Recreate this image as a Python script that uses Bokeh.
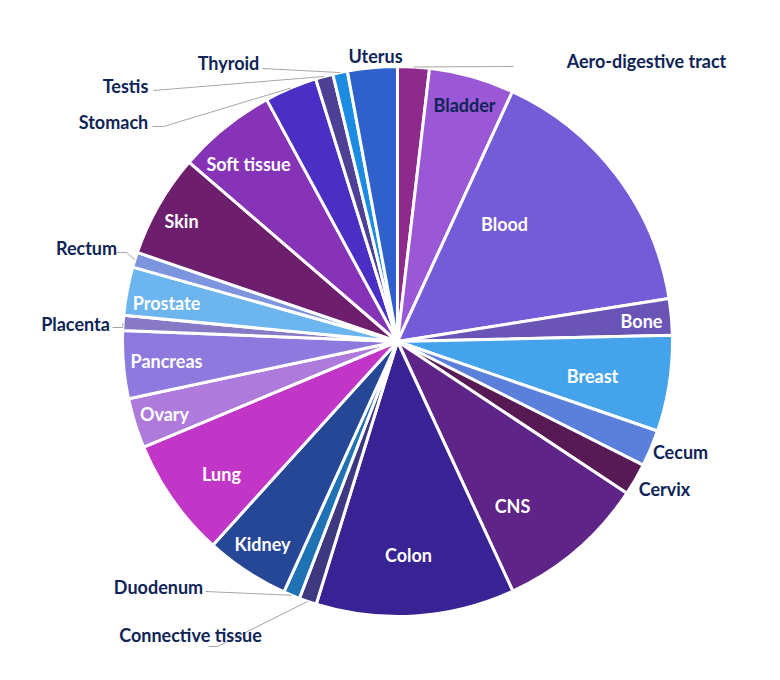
import numpy as np
from bokeh.plotting import figure
from bokeh.models import ColumnDataSource, Range1d
from bokeh.core.properties import value
from bokeh.embed import file_html
from bokeh.resources import INLINE

# ---- data (share of the pie, read in degrees, clockwise from 12 o'clock) ----
categories = ["Aero-digestive tract", "Bladder", "Blood", "Bone", "Breast", "Cecum",
              "Cervix", "CNS", "Colon", "Connective tissue", "Duodenum", "Kidney",
              "Lung", "Ovary", "Pancreas", "Placenta", "Prostate", "Rectum", "Skin",
              "Soft tissue", "Stomach", "Testis", "Thyroid", "Uterus"]
shares = [6.7, 18.0, 56.3, 7.7, 20.3, 7.7, 6.8, 31.7, 42.0, 3.7, 3.5, 17.8,
          25.2, 10.6, 14.3, 3.2, 10.2, 3.2, 21.8, 20.9, 11.1, 3.7, 3.1, 10.5]
colors = ["#8E2A8C", "#9A57D6", "#745BD8", "#6A55B6", "#45A3EB", "#5B80DB",
          "#581A55", "#5F2488", "#392293", "#3E3880", "#1F72B3", "#264796",
          "#C136C6", "#AE7BDC", "#8E79DE", "#8779C6", "#6DB5EF", "#7D95DF",
          "#6D1F6D", "#8733B7", "#4B2EC3", "#4E4095", "#1C8BE2", "#2F60CC"]

# ---- layout (pixel coordinates, y downward) ----
W, H = 780, 680
CX, CY, R = 397, 341, 275

label_px = {
    "Aero-digestive tract": (646, 60), "Bladder": (464, 104), "Blood": (504, 223),
    "Bone": (641, 320), "Breast": (592, 375), "Cecum": (680, 451),
    "Cervix": (664, 488), "CNS": (512, 505), "Colon": (408, 554),
    "Connective tissue": (190, 634), "Duodenum": (158, 586), "Kidney": (262, 543),
    "Lung": (221, 473), "Ovary": (164, 413), "Pancreas": (166, 360),
    "Placenta": (75, 323), "Prostate": (166, 302), "Rectum": (86, 247),
    "Skin": (181, 220), "Soft tissue": (248, 163), "Stomach": (113, 121),
    "Testis": (125, 85), "Thyroid": (228, 62), "Uterus": (375, 55),
}
outside = {"Aero-digestive tract", "Cecum", "Cervix", "Connective tissue", "Duodenum",
           "Placenta", "Rectum", "Stomach", "Testis", "Thyroid", "Uterus", "Bladder"}
leader_start = {
    "Aero-digestive tract": [(513, 66)],
    "Thyroid": [(262, 68)],
    "Testis": [(153, 90)],
    "Stomach": [(152, 126), (163, 126)],
    "Rectum": [(116, 252), (126, 252)],
    "Placenta": [(112, 327), (122, 327)],
    "Duodenum": [(205, 591)],
    "Connective tissue": [(208, 646), (217, 646)],
}

vals = np.array(shares, dtype=float)
theta = vals / vals.sum() * 2 * np.pi
ends = np.cumsum(theta)
starts = ends - theta
mids = (starts + ends) / 2

src = ColumnDataSource(dict(
    cat=categories, color=colors,
    start=np.pi / 2 - starts, end=np.pi / 2 - ends,
))

p = figure(width=W, height=H, output_backend="svg", toolbar_location=None,
           x_range=Range1d(0, W), y_range=Range1d(0, H),
           x_axis_location=None, y_axis_location=None, min_border=0)
p.outline_line_color = None
p.grid.visible = False
p.background_fill_color = "white"
p.border_fill_color = "white"

p.wedge(x=CX, y=H - CY, radius=R, start_angle="start", end_angle="end",
        direction="clock", fill_color="color", line_color="white", line_width=3,
        source=src)

# leader lines
for i, c in enumerate(categories):
    if c in leader_start:
        ex = CX + R * np.sin(mids[i])
        ey = CY - R * np.cos(mids[i])
        pts = leader_start[c] + [(ex, ey)]
        p.line([q[0] for q in pts], [H - q[1] for q in pts],
               line_color="#A6A6A6", line_width=1)

# labels
lx, ly, lt, lc = [], [], [], []
for c in categories:
    x, y = label_px[c]
    lx.append(x); ly.append(H - y); lt.append(c)
    lc.append("#0F2456" if c in outside else "white")
lab = ColumnDataSource(dict(x=lx, y=ly, t=lt, c=lc))
p.text(x="x", y="y", text="t", text_color="c", source=lab,
       text_font=value("Lato"), text_font_style="bold", text_font_size="18px",
       text_align="center", text_baseline="middle")

open("out.html", "w").write(file_html(p, INLINE))
